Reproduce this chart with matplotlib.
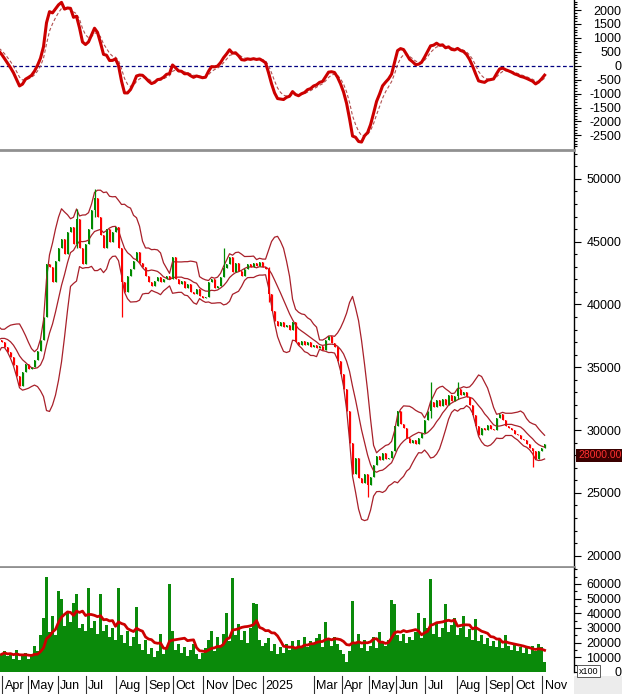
import numpy as np
import pandas as pd
import matplotlib
matplotlib.use("Agg")
import matplotlib.pyplot as plt
from matplotlib.ticker import MultipleLocator
from matplotlib.transforms import blended_transform_factory
from matplotlib.patches import Rectangle

plt.rcParams['font.family'] = ['Liberation Sans', 'DejaVu Sans']
plt.rcParams['axes.unicode_minus'] = False

# closes before the visible window, only used to warm up the indicators
warmup_close = [34500, 35000, 35600, 36100, 36600, 37000, 37400, 37700, 37800, 37600, 37400, 37200]

# one candle per ~2 trading days, Apr 2024 -> Oct 2025
close = [37000, 36600, 36200, 35800, 35200, 34300, 33500, 34600, 35300, 34900,
         35000, 35600, 36300, 37200, 39000, 43200, 43000, 41800, 43500, 44500,
         45200, 44000, 45800, 46200, 44800, 46800, 44500, 43200, 44800, 46000,
         47500, 48500, 47000, 45500, 44500, 46000, 45000, 45800, 46200, 44500,
         41800, 41000, 42300, 42800, 43500, 44200, 43300, 43000, 42300, 41800,
         41500, 41900, 42200, 41800, 42000, 42300, 42000, 43800, 42000, 41600,
         41900, 41300, 41600, 41000, 40800, 41200, 40700, 40500, 40600, 41800,
         42000, 41300, 41500, 42200, 42900, 43200, 43800, 42600, 43300, 42700,
         42300, 42800, 43200, 43000, 43300, 43100, 43400, 43000, 42800, 40800,
         39500, 38700, 38300, 38600, 38200, 38400, 38000, 38600, 37000, 36800,
         37100, 36800, 37000, 36600, 36800, 36500, 36700, 36400, 37200, 37500,
         36900, 36600, 35500, 34500, 33300, 31500, 29000, 26500, 27800, 26200,
         25800, 26500, 25600, 26300, 27200, 27900, 27600, 28200, 27700, 27800,
         28300, 30300, 31500, 30500, 30200, 29400, 29000, 29200, 28900, 29400,
         29800, 30800, 31500, 32200, 31800, 32400, 31900, 32500, 32000, 32800,
         32300, 32700, 33300, 32800, 33000, 32600, 32000, 31200, 30300, 29600,
         30200, 30000, 30400, 30100, 30000, 31000, 31300, 30800, 30300, 30200,
         30000, 29700, 29600, 29300, 29200, 28900, 28600, 28300, 27700, 28300,
         28600, 28900]

volume = [12000, 14000, 11000, 13000, 9000, 15000, 8000, 11000, 13000, 9000,
          12000, 18000, 14000, 25000, 37000, 65000, 27000, 38000, 25000, 55000,
          50000, 31000, 40000, 34000, 47000, 53000, 30000, 33000, 28000, 57000,
          30000, 35000, 26000, 53000, 28000, 32000, 24000, 30000, 22000, 57000,
          25000, 20000, 28000, 18000, 24000, 44000, 19000, 15000, 22000, 12000,
          16000, 10000, 14000, 26000, 12000, 17000, 60000, 28000, 15000, 19000,
          13000, 17000, 11000, 15000, 19000, 12000, 9000, 13000, 16000, 22000,
          28000, 14000, 24000, 18000, 26000, 40000, 21000, 64000, 25000, 33000,
          22000, 28000, 20000, 30000, 47000, 46000, 22000, 18000, 20000, 23000,
          14000, 19000, 12000, 17000, 13000, 19000, 15000, 21000, 16000, 22000,
          18000, 24000, 17000, 21000, 19000, 23000, 26000, 17000, 34000, 22000,
          18000, 24000, 19000, 15000, 12000, 7000, 14000, 48000, 20000, 26000,
          16000, 22000, 14000, 18000, 24000, 16000, 27000, 20000, 18000, 22000,
          49000, 46000, 25000, 21000, 26000, 20000, 24000, 22000, 27000, 40000,
          23000, 37000, 30000, 63000, 26000, 34000, 24000, 30000, 46000, 27000,
          32000, 37000, 25000, 30000, 38000, 24000, 29000, 22000, 36000, 21000,
          25000, 19000, 23000, 18000, 21000, 17000, 22000, 16000, 25000, 18000,
          15000, 19000, 14000, 17000, 13000, 16000, 12000, 18000, 14000, 19000,
          17000, 7000]

# long shadows that stick out of the bodies: index -> (low, high)
long_wicks = {25: (44500, 47600), 31: (47000, 49200), 40: (39000, 44500),
              74: (42500, 44500), 89: (40200, 43000), 122: (24700, 26500),
              143: (31000, 33800), 152: (32500, 33800), 177: (27100, 28600)}

month_pos = [0.8, 9.2, 19.2, 28.6, 38.8, 48.8, 57.5, 67.8, 77.5, 87.5,
             104.5, 114.0, 123.0, 132.0, 141.8, 152.2, 162.0, 170.8, 180.8]
month_lbl = ['Apr', 'May', 'Jun', 'Jul', 'Aug', 'Sep', 'Oct', 'Nov', 'Dec', '2025',
             'Mar', 'Apr', 'May', 'Jun', 'Jul', 'Aug', 'Sep', 'Oct', 'Nov']
last_price = 28000.00

# indicators (Bollinger 20d, MACD 12/26/9, volume MA 20d at this sampling)
s = pd.Series(warmup_close + close, dtype=float)
xs = np.arange(len(s)) - len(warmup_close)
mid = s.rolling(9).mean()
sd = s.rolling(9).std(ddof=0)
upper = mid + 2 * sd
lower = mid - 2 * sd
macd = s.ewm(span=5.5, adjust=False).mean() - s.ewm(span=12, adjust=False).mean()
signal = macd.ewm(span=4, adjust=False).mean()
vol = pd.Series(volume, dtype=float)
vol_ma = vol.rolling(9, min_periods=1).mean()

x = np.arange(len(close))
opens = np.array([warmup_close[-1]] + close[:-1], dtype=float)
closes = np.array(close, dtype=float)
up = closes >= opens
cols = np.where(up, '#008a00', '#ff0000')

W, H = 622, 694
def box(x0, y0, x1, y1):
    return [x0 / W, 1 - y1 / H, (x1 - x0) / W, (y1 - y0) / H]

fig = plt.figure(figsize=(6.22, 6.94), dpi=100)
ax_m = fig.add_axes(box(0, 0, 574, 149))
ax_p = fig.add_axes(box(0, 150, 574, 567))
ax_v = fig.add_axes(box(0, 568, 574, 672))

xlim = (-0.5, 190.8)
for ax in (ax_m, ax_p, ax_v):
    ax.set_xlim(*xlim)
    ax.set_xticks([])
    ax.yaxis.tick_right()
    ax.spines['left'].set_visible(False)
    ax.spines['top'].set_visible(False)
    ax.spines['bottom'].set_visible(False)
    ax.spines['right'].set_linewidth(1)
    ax.tick_params(axis='y', which='major', length=5, width=0.8, pad=29, labelsize=9)
    ax.tick_params(axis='y', which='minor', length=2.5, width=0.8)

ax_p.spines['top'].set_visible(True)
ax_p.spines['top'].set_color('#909090')
ax_p.spines['top'].set_linewidth(2)
ax_p.spines['bottom'].set_visible(True)
ax_p.spines['bottom'].set_color('#909090')
ax_p.spines['bottom'].set_linewidth(2)

# MACD
ax_m.axhline(0, color='#000080', lw=0.9, dashes=(3, 2))
ax_m.plot(xs, signal, color='#b05050', lw=0.8, dashes=(3, 2))
ax_m.plot(xs, macd, color='#cc0000', lw=2.2)
ax_m.set_ylim(-2990, 2360)
ax_m.yaxis.set_major_locator(MultipleLocator(500))
ax_m.yaxis.set_minor_locator(MultipleLocator(100))
ax_m.set_yticks(np.arange(-2500, 2001, 500))

# price + Bollinger
band_c = '#a8202a'
ax_p.plot(xs, upper, color=band_c, lw=0.9)
ax_p.plot(xs, mid, color=band_c, lw=0.9)
ax_p.plot(xs, lower, color=band_c, lw=0.9)
lo = np.minimum(opens, closes)
hi = np.maximum(opens, closes)
wl = lo.copy()
wh = hi.copy()
for i, (l, h) in long_wicks.items():
    wl[i] = min(wl[i], l)
    wh[i] = max(wh[i], h)
ax_p.vlines(x, wl, wh, colors=cols, lw=0.9)
ax_p.bar(x, np.maximum(hi - lo, 80), bottom=lo, width=0.55, color=cols, linewidth=0)
ax_p.set_ylim(19100, 52300)
ax_p.set_yticks(np.arange(20000, 50001, 5000))
ax_p.yaxis.set_minor_locator(MultipleLocator(1000))
tr = blended_transform_factory(ax_p.transAxes, ax_p.transData)
ax_p.text(1.007, last_price, '%.2f' % last_price, transform=tr, ha='left', va='center',
          fontsize=7.5, color='#ff3030', clip_on=False,
          bbox=dict(boxstyle='square,pad=0.15', fc='#3a0000', ec='none'))

# volume
ax_v.bar(x, volume, width=0.95, color='#0a8a0a', linewidth=0)
ax_v.plot(x, vol_ma, color='#cc0000', lw=2)
ax_v.set_ylim(0, 70800)
ax_v.set_yticks(np.arange(0, 60001, 10000))
ax_v.yaxis.set_minor_locator(MultipleLocator(5000))
fig.text(579 / W, 1 - 671 / H, 'x100', fontsize=6.5, ha='left', va='center',
         bbox=dict(boxstyle='square,pad=0.2', fc='white', ec='#404040', lw=0.6))

for ax in (ax_m, ax_p, ax_v):
    plt.setp(ax.get_yticklabels(), ha='right')

# month strip
fig.patches.append(Rectangle((574 / W, 0), 1 - 574 / W, 18 / H, transform=fig.transFigure,
                             fc='#ececec', ec='none'))
tm = blended_transform_factory(ax_v.transData, fig.transFigure)
for p, lab in zip(month_pos, month_lbl):
    ax_v.plot([p - 0.5, p - 0.5], [0, 1 - 676 / H], transform=tm, color='#303030',
              lw=0.8, clip_on=False)
    ax_v.text(p + 0.3, 1 - 686 / H, lab, transform=tm, fontsize=9, ha='left',
              va='center', clip_on=False)

fig.savefig('out.png', dpi=100)
